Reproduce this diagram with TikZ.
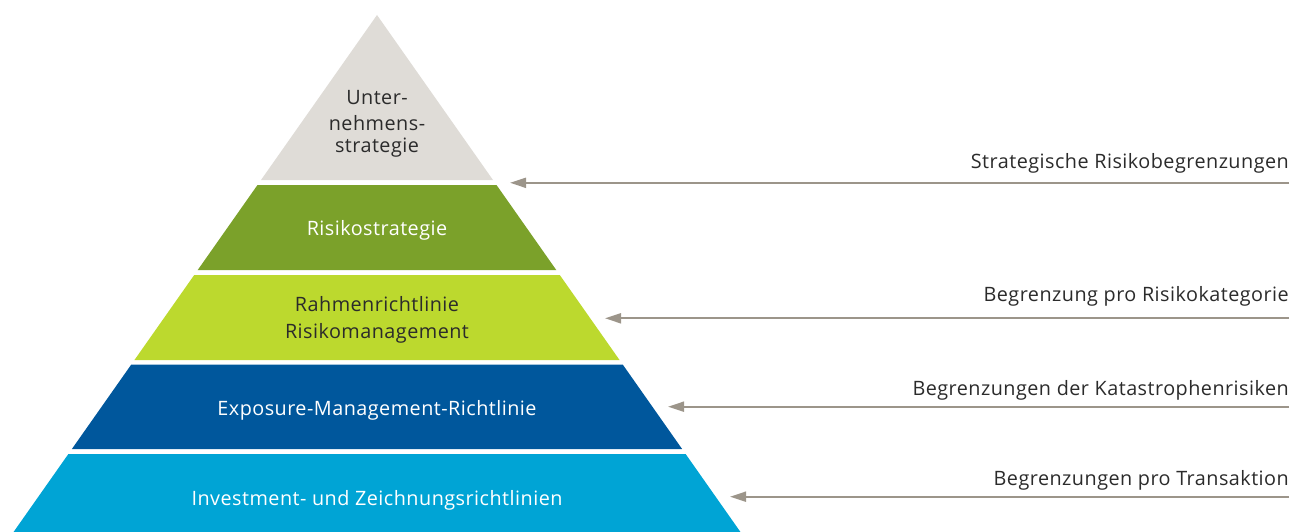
\documentclass[tikz,border=0pt]{standalone}
\usepackage{fontspec}
\setmainfont[LetterSpace=2.4]{Open Sans}
\usetikzlibrary{arrows.meta}
\definecolor{lgray}{HTML}{DFDCD7}
\definecolor{olive}{HTML}{7BA12A}
\definecolor{lime}{HTML}{BCD92E}
\definecolor{dblue}{HTML}{00579C}
\definecolor{cyanb}{HTML}{00A4D5}
\definecolor{arrowc}{HTML}{9C958A}
\definecolor{txt}{HTML}{2B2B2B}
\tikzset{
  lbl/.style={font=\fontsize{19.8}{25}\selectfont, inner sep=0pt, anchor=base},
  rlbl/.style={lbl, anchor=base east, text=txt},
  limit/.style={draw=arrowc, line width=2pt, -{Triangle[length=16pt,width=10pt]}},
}
\newcommand{\layer}[3]{% top y, bottom y, colour
  \fill[#3] ({377-0.703*(#1-15)},#1) -- ({377+0.703*(#1-15)},#1) -- ({377+0.703*(#2-15)},#2) -- ({377-0.703*(#2-15)},#2) -- cycle;}
\begin{document}
\begin{tikzpicture}[x=1pt,y=-1pt]
\useasboundingbox (0,0) rectangle (1304,532);
% pyramid
\fill[lgray] (377,15) -- ({377+0.703*165},180) -- ({377-0.703*165},180) -- cycle;
\layer{185}{270}{olive}
\layer{275}{360}{lime}
\layer{364.5}{449}{dblue}
\layer{454}{540}{cyanb}
% pyramid texts
\node[lbl, text=txt] (u1) at (377,105) {Unter-};
\node[lbl, text=txt] (u2) at (377,131) {nehmens-};
\node[lbl, text=txt] (u3) at (377,153) {strategie};
\node[lbl, text=white] (rs) at (377,235) {Risikostrategie};
\node[lbl, text=txt] (rr1) at (377,311.5) {Rahmenrichtlinie};
\node[lbl, text=txt] (rr2) at (377,338) {Risikomanagement};
\node[lbl, text=white] (ex) at (377,415) {Exposure-Management-Richtlinie};
\node[lbl, text=white] (iv) at (377,505) {Investment- und Zeichnungsrichtlinien};
% right labels
\node[rlbl] (l1) at (1289,168.3) {Strategische Risikobegrenzungen};
\node[rlbl] (l2) at (1289,301.7) {Begrenzung pro Risikokategorie};
\node[rlbl] (l3) at (1289,395) {Begrenzungen der Katastrophenrisiken};
\node[rlbl] (l4) at (1289,485) {Begrenzungen pro Transaktion};
% arrows
\coordinate (s1) at (1289,182.8);
\coordinate (t1) at (510,182.8);
\coordinate (s2) at (1289,318.3);
\coordinate (t2) at (605,318.3);
\coordinate (s3) at (1289,406.7);
\coordinate (t3) at (668,406.7);
\coordinate (s4) at (1289,496.7);
\coordinate (t4) at (730,496.7);
\draw[limit] (s1) -- (t1);
\draw[limit] (s2) -- (t2);
\draw[limit] (s3) -- (t3);
\draw[limit] (s4) -- (t4);
\end{tikzpicture}
\end{document}
